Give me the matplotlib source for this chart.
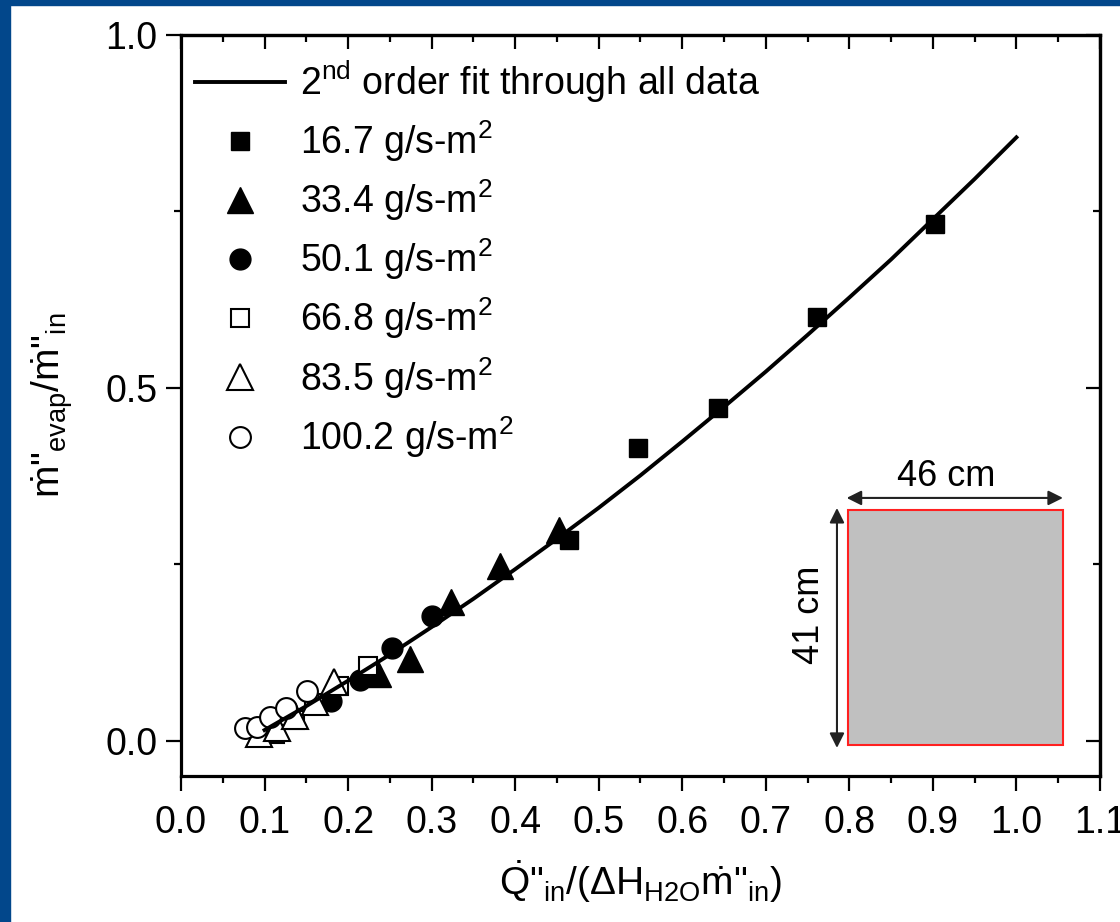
import numpy as np
import matplotlib
matplotlib.use("Agg")
import matplotlib.pyplot as plt
from matplotlib.patches import Rectangle
from matplotlib.ticker import MultipleLocator, FormatStrFormatter

plt.rcParams['font.family'] = ['Liberation Sans', 'DejaVu Sans']
plt.rcParams['mathtext.fontset'] = 'custom'
plt.rcParams['mathtext.rm'] = 'Liberation Sans'
plt.rcParams['mathtext.it'] = 'Liberation Sans'
plt.rcParams['mathtext.bf'] = 'Liberation Sans:bold'
plt.rcParams['mathtext.default'] = 'regular'

# ---- data ----
fit_x = [0.10, 0.15, 0.20, 0.25, 0.30, 0.35, 0.40, 0.45, 0.50, 0.55,
         0.60, 0.65, 0.70, 0.75, 0.80, 0.85, 0.90, 0.95, 1.00]
fit_y = [0.015, 0.049, 0.085, 0.122, 0.161, 0.201, 0.243, 0.286, 0.330, 0.376,
         0.424, 0.473, 0.523, 0.575, 0.628, 0.682, 0.739, 0.796, 0.855]

x_167 = [0.465, 0.547, 0.643, 0.761, 0.902]
y_167 = [0.284, 0.415, 0.471, 0.601, 0.732]

x_334 = [0.236, 0.274, 0.323, 0.382, 0.453]
y_334 = [0.095, 0.116, 0.196, 0.248, 0.298]

x_501 = [0.180, 0.214, 0.252, 0.300]
y_501 = [0.056, 0.086, 0.132, 0.177]

x_668 = [0.112, 0.136, 0.159, 0.189, 0.224]
y_668 = [0.010, 0.030, 0.053, 0.077, 0.106]

x_835 = [0.093, 0.115, 0.137, 0.160, 0.183]
y_835 = [0.009, 0.018, 0.035, 0.055, 0.083]

x_1002 = [0.077, 0.091, 0.107, 0.126, 0.151]
y_1002 = [0.018, 0.020, 0.034, 0.046, 0.070]

labels = ['16.7 g/s-m$^2$', '33.4 g/s-m$^2$', '50.1 g/s-m$^2$',
          '66.8 g/s-m$^2$', '83.5 g/s-m$^2$', '100.2 g/s-m$^2$']
fit_label = '2$^{nd}$ order fit through all data'

# ---- figure ----
fig = plt.figure(figsize=(11.2, 9.22), dpi=100)
fig.patch.set_facecolor('white')
blue = '#02478B'
fig.add_artist(Rectangle((0, 1 - 5 / 922), 1, 5 / 922, transform=fig.transFigure,
                         color=blue, zorder=-5))
fig.add_artist(Rectangle((0, 0), 10 / 1120, 1, transform=fig.transFigure,
                         color=blue, zorder=-5))

ax = fig.add_axes([0.1616, 0.1584, 0.8205, 0.8036])

ms_sq, ms_tri, ms_circ = 13, 19, 15
h_fit, = ax.plot(fit_x, fit_y, color='black', lw=2.8, zorder=4, label=fit_label)
h1, = ax.plot(x_167, y_167, 's', ms=ms_sq, color='black', ls='none', zorder=3, label=labels[0])
h2, = ax.plot(x_334, y_334, '^', ms=ms_tri, color='black', ls='none', zorder=3, label=labels[1])
h3, = ax.plot(x_501, y_501, 'o', ms=ms_circ, color='black', ls='none', zorder=3, label=labels[2])
h4, = ax.plot(x_668, y_668, 's', ms=ms_sq, mfc='white', mec='black', mew=1.5, ls='none', zorder=3, label=labels[3])
h5, = ax.plot(x_835, y_835, '^', ms=ms_tri, mfc='white', mec='black', mew=1.5, ls='none', zorder=3, label=labels[4])
h6, = ax.plot(x_1002, y_1002, 'o', ms=ms_circ, mfc='white', mec='black', mew=1.5, ls='none', zorder=3, label=labels[5])

ax.set_xlim(0, 1.1)
ax.set_ylim(-0.05, 1.0)
ax.xaxis.set_major_locator(MultipleLocator(0.1))
ax.xaxis.set_minor_locator(MultipleLocator(0.05))
ax.yaxis.set_major_locator(MultipleLocator(0.5))
ax.yaxis.set_minor_locator(MultipleLocator(0.25))
ax.xaxis.set_major_formatter(FormatStrFormatter('%.1f'))
ax.yaxis.set_major_formatter(FormatStrFormatter('%.1f'))

for s in ax.spines.values():
    s.set_linewidth(2.3)
ax.tick_params(which='major', direction='out', length=11, width=1.6, labelsize=27)
ax.tick_params(axis='x', which='major', pad=10)
ax.tick_params(axis='y', which='major', pad=6)
ax.tick_params(which='minor', direction='out', length=5, width=1.6)

# inward ticks on top and right
sx = ax.secondary_xaxis('top')
sx.xaxis.set_major_locator(MultipleLocator(0.1))
sx.xaxis.set_minor_locator(MultipleLocator(0.05))
sx.tick_params(which='major', direction='in', length=10, width=1.6, labeltop=False)
sx.tick_params(which='minor', direction='in', length=5, width=1.6)
sx.spines['top'].set_linewidth(2.3)
sy = ax.secondary_yaxis('right')
sy.yaxis.set_major_locator(MultipleLocator(0.5))
sy.yaxis.set_minor_locator(MultipleLocator(0.25))
sy.tick_params(which='major', direction='in', length=10, width=1.6, labelright=False)
sy.tick_params(which='minor', direction='in', length=5, width=1.6)
sy.spines['right'].set_linewidth(2.3)

ax.set_xlabel(r'$\dot{Q}$"$_{in}$/($\Delta$H$_{H2O}$$\dot{m}$"$_{in}$)', fontsize=28, labelpad=12)
ax.set_ylabel(r'$\dot{m}$"$_{evap}$/$\dot{m}$"$_{in}$', fontsize=28, labelpad=22)

leg = ax.legend(handles=[h_fit, h1, h2, h3, h4, h5, h6], loc='upper left',
                bbox_to_anchor=(0.015, 0.968), frameon=False, fontsize=27,
                borderaxespad=0, borderpad=0, handlelength=2.4, handletextpad=0.4,
                labelspacing=0.36, numpoints=1)

# inset sketch of the plate
ax.add_patch(Rectangle((0.7987, -0.0061), 0.2567, 0.333, facecolor='#c0c0c0',
                       edgecolor='#ff2020', lw=1.5, zorder=2))
ax.annotate('', xy=(0.7968, 0.344), xytext=(1.0557, 0.344),
            arrowprops=dict(arrowstyle='<|-|>', color='#222222', lw=1.5, mutation_scale=22,
                            shrinkA=0, shrinkB=0), zorder=2)
ax.annotate('', xy=(0.7852, 0.3298), xytext=(0.7852, -0.0103),
            arrowprops=dict(arrowstyle='<|-|>', color='#222222', lw=1.5, mutation_scale=22,
                            shrinkA=0, shrinkB=0), zorder=2)
ax.text(0.9165, 0.374, '46 cm', ha='center', va='center', fontsize=26)
ax.text(0.7529, 0.178, '41 cm', ha='center', va='center', fontsize=26, rotation=90)

fig.savefig('out.png', dpi=100)
